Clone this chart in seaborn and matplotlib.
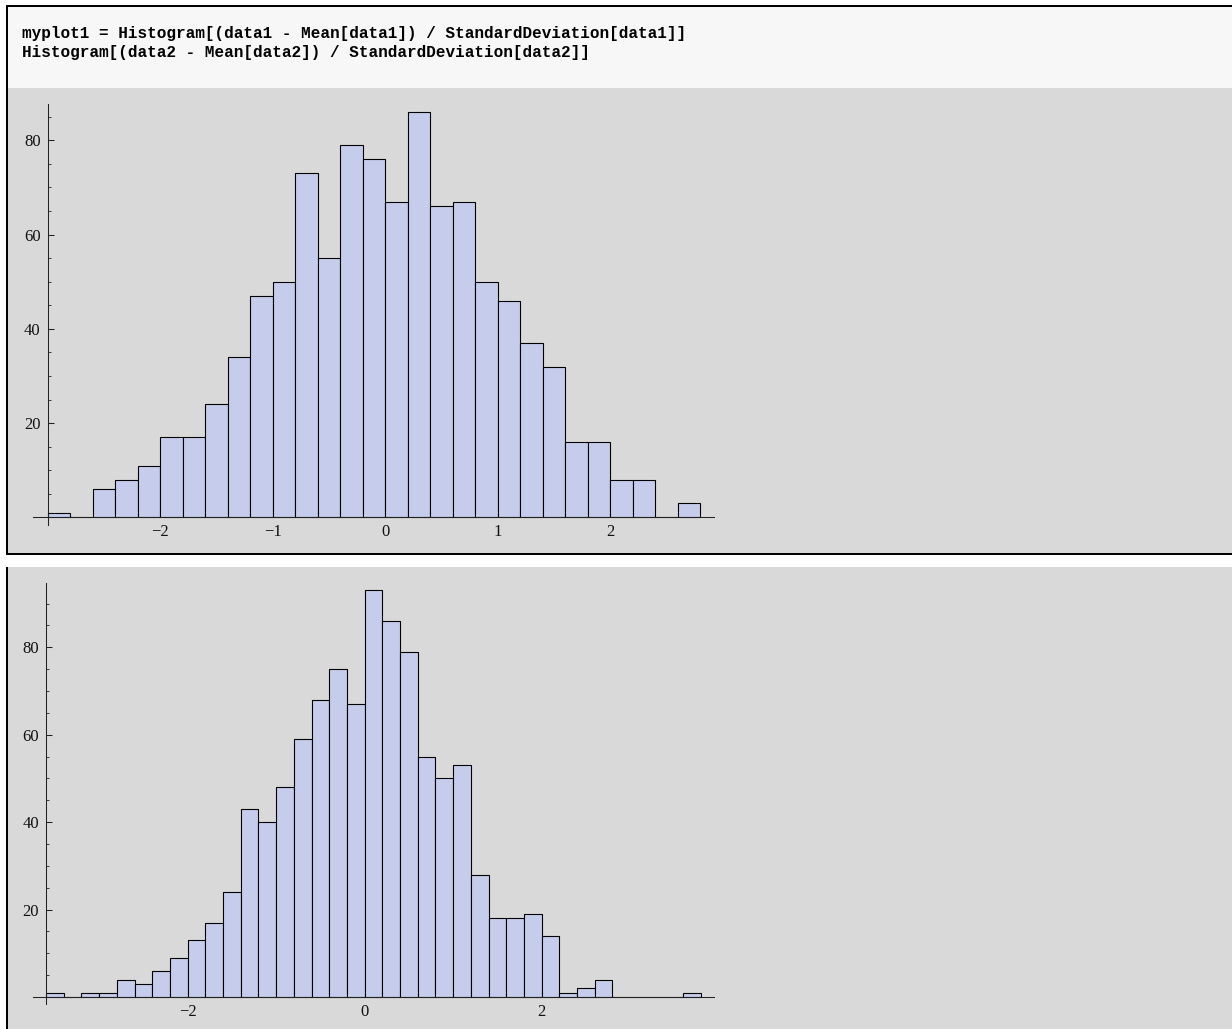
import numpy as np
import pandas as pd
import matplotlib
matplotlib.use("Agg")
import matplotlib.pyplot as plt
from matplotlib.patches import Rectangle
from matplotlib.ticker import FixedLocator, FixedFormatter
import seaborn as sns

# ---- data: standardized samples, binned in steps of 0.2 ----
bin_width = 0.2

start1 = -3.0
counts1 = [1, 0, 6, 8, 11, 17, 17, 24, 34, 47, 50, 73, 55, 79, 76,
           67, 86, 66, 67, 50, 46, 37, 32, 16, 16, 8, 8, 0, 3]

start2 = -3.6
counts2 = [1, 0, 1, 1, 4, 3, 6, 9, 13, 17, 24, 43, 40, 48, 59, 68, 75, 67,
           93, 86, 79, 55, 50, 53, 28, 18, 18, 19, 14, 1, 2, 4, 0, 0, 0, 0, 1]

xticks1 = [-2, -1, 0, 1, 2]
xticks2 = [-2, 0, 2]
yticks = [20, 40, 60, 80]

code_lines = [
    "myplot1 = Histogram[(data1 - Mean[data1]) / StandardDeviation[data1]]",
    "Histogram[(data2 - Mean[data2]) / StandardDeviation[data2]]",
]

# ---- styling ----
W, H = 1232, 1029
DPI = 100
BAR_FILL = "#c6cdec"
PANEL_GRAY = "#d9d9d9"
CELL_BG = "#f7f7f7"
SERIF = ["Liberation Serif", "DejaVu Serif"]

fig = plt.figure(figsize=(W / DPI, H / DPI), dpi=DPI)
fig.patch.set_facecolor("white")


def box(x0, y0, x1, y1, color):
    """Rectangle given in pixel coordinates measured from the top-left."""
    fig.patches.append(Rectangle((x0 / W, 1 - y1 / H), (x1 - x0) / W, (y1 - y0) / H,
                                 transform=fig.transFigure, facecolor=color,
                                 edgecolor="none", zorder=-10))


# notebook cell frames
box(7, 7, W, 88, CELL_BG)
box(7, 88, W, 553, PANEL_GRAY)
box(7, 567, W, H, PANEL_GRAY)
box(6, 5, W, 7, "black")
box(6, 5, 8, 555, "black")
box(6, 553, W, 555, "black")
box(6, 567, 8, H, "black")

# input code
for i, line in enumerate(code_lines):
    fig.text(22 / W, 1 - (38 + 19 * i) / H, line, family=["Liberation Mono", "DejaVu Sans Mono"],
             weight="bold", fontsize=11.5, color="black", va="baseline", ha="left")


def histogram_panel(rect_px, start, counts, xlim, ylim, xticks):
    x0, y0, x1, y1 = rect_px
    ax = fig.add_axes([x0 / W, 1 - y1 / H, (x1 - x0) / W, (y1 - y0) / H])
    ax.set_facecolor("none")
    n = len(counts)
    centers = np.round(start + bin_width * (np.arange(n) + 0.5), 6)
    df = pd.DataFrame({"z": centers, "count": counts})
    sns.histplot(data=df, x="z", weights="count", binwidth=bin_width,
                 binrange=(start, start + n * bin_width), ax=ax,
                 color=BAR_FILL, edgecolor="black", linewidth=0.8, alpha=1.0)
    ax.set_xlim(*xlim)
    ax.set_ylim(*ylim)
    ax.set_xlabel("")
    ax.set_ylabel("")
    for side in ("top", "right"):
        ax.spines[side].set_visible(False)
    ax.spines["left"].set_position(("data", start))
    ax.spines["bottom"].set_position(("data", 0))
    for side in ("left", "bottom"):
        ax.spines[side].set_linewidth(0.75)
        ax.spines[side].set_color("#222222")
        ax.spines[side].set_zorder(3)

    ax.xaxis.set_major_locator(FixedLocator(xticks))
    ax.xaxis.set_major_formatter(FixedFormatter([f"{t}".replace("-", "\u2212") for t in xticks]))
    ax.yaxis.set_major_locator(FixedLocator(yticks))
    ax.yaxis.set_major_formatter(FixedFormatter([str(t) for t in yticks]))
    minor = [v for v in range(5, int(ylim[1]) + 1, 5) if v % 20 != 0]
    ax.yaxis.set_minor_locator(FixedLocator(minor))

    ax.tick_params(axis="x", which="both", length=0, pad=5, labelsize=12, colors="#111111")
    ax.tick_params(axis="y", which="major", direction="in", length=4, width=0.75,
                   pad=5, labelsize=12, colors="#222222", labelcolor="#111111")
    ax.tick_params(axis="y", which="minor", direction="in", length=2.3, width=0.6, colors="#222222")
    for lab in ax.get_xticklabels() + ax.get_yticklabels():
        lab.set_family(SERIF)
    return ax


histogram_panel((33, 104, 714, 525), start1, counts1,
                xlim=(-3.129, 2.924), ylim=(-1.6, 87.7), xticks=xticks1)
histogram_panel((33, 583, 714, 1004), start2, counts2,
                xlim=(-3.748, 3.947), ylim=(-1.6, 94.7), xticks=xticks2)

fig.savefig("out.png", dpi=DPI)
